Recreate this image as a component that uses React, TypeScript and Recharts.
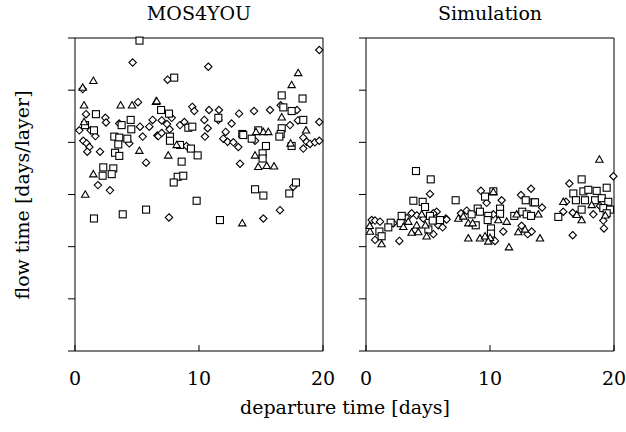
import { ReferenceLine, Scatter, ScatterChart, XAxis, YAxis } from "recharts";

type Pt = [number, number];

// departure time [days], flow time (arbitrary units, 0..6 grid)
const mosDiamonds: Pt[] = [
  [4.65, 5.53], [0.62, 5.02], [5.08, 4.77], [0.89, 4.54], [2.45, 4.47], [2.5, 4.38], [0.35, 4.23],
  [1.26, 4.23], [1.64, 4.12], [0.67, 4.03], [0.94, 3.98], [1.16, 3.91], [0.99, 3.82], [2.02, 3.82],
  [3.57, 4.36], [4.38, 3.98], [5.24, 4.3], [5.99, 4.3], [6.26, 4.43], [5.46, 4.11], [6.64, 4.13],
  [5.73, 3.61], [1.85, 3.18], [2.82, 3.08], [10.75, 5.45], [7.47, 5.2], [7.8, 4.47], [9.46, 4.68],
  [9.62, 4.6], [10.81, 4.62], [11.61, 4.62], [11.56, 4.43], [13.23, 4.55], [6.99, 4.42], [7.42, 4.35],
  [7.63, 4.25], [8.47, 4.33], [8.82, 4.39], [10.43, 4.43], [10.7, 4.27], [10.48, 4.11], [12.63, 4.36],
  [12.15, 4.2], [11.96, 4.07], [12.31, 4.01], [12.77, 4.0], [13.17, 3.91], [6.72, 4.12], [6.99, 4.18],
  [9.0, 3.93], [13.31, 3.59], [7.58, 2.56], [19.7, 5.77], [16.59, 4.71], [17.9, 4.62], [14.44, 4.6],
  [15.73, 4.62], [17.98, 4.42], [19.7, 4.39], [17.34, 4.33], [14.52, 4.03], [18.41, 4.09], [18.68, 4.01],
  [18.95, 3.97], [19.35, 4.0], [19.7, 4.03], [18.41, 3.88], [17.6, 3.15], [16.53, 2.7], [15.19, 2.54],
];

const mosSquares: Pt[] = [
  [5.2, 5.95], [1.69, 4.54], [0.81, 4.33], [1.53, 4.23], [3.76, 4.33], [4.49, 4.43], [4.54, 4.25],
  [3.17, 4.11], [3.57, 4.09], [4.22, 4.07], [3.49, 3.96], [3.23, 3.8], [3.57, 3.74], [2.28, 3.52],
  [2.23, 3.36], [3.09, 3.5], [2.96, 3.39], [1.53, 2.54], [3.85, 2.62], [5.73, 2.71], [8.0, 5.24],
  [6.94, 4.62], [7.58, 4.55], [11.56, 4.47], [9.14, 4.28], [9.46, 4.3], [13.49, 4.16], [7.66, 4.11],
  [7.66, 4.03], [8.47, 3.95], [9.35, 3.88], [9.89, 3.75], [8.6, 3.63], [8.28, 3.34], [8.73, 3.36],
  [7.96, 3.23], [9.81, 2.88], [11.69, 2.51], [16.67, 4.9], [18.35, 4.84], [16.8, 4.67], [17.47, 4.6],
  [18.41, 4.43], [16.67, 4.27], [16.59, 4.16], [13.57, 4.14], [14.25, 4.07], [14.78, 4.23], [16.48, 4.11],
  [17.47, 3.93], [15.4, 3.93], [15.13, 3.79], [15.13, 3.69], [14.52, 3.1], [15.19, 2.98], [17.82, 3.23],
  [17.28, 3.02],
];

const mosTriangles: Pt[] = [
  [0.62, 5.05], [1.48, 5.18], [0.73, 4.71], [3.68, 4.71], [4.6, 4.71], [6.53, 4.78], [0.73, 4.39],
  [5.19, 3.84], [1.48, 3.39], [0.83, 3.0], [6.59, 4.79], [8.2, 3.95], [7.52, 3.75], [13.49, 2.45],
  [18.0, 5.33], [17.47, 5.1], [16.67, 4.48], [18.63, 4.23], [14.6, 4.2], [15.19, 4.2], [15.59, 4.2],
  [17.39, 3.98], [14.52, 3.75], [14.78, 3.53], [15.46, 3.55], [16.05, 3.54],
];

const simDiamonds: Pt[] = [
  [5.16, 3.01], [0.46, 2.51], [0.73, 2.5], [1.13, 2.48], [0.73, 2.13], [2.69, 2.11], [3.68, 2.64],
  [3.95, 2.32], [4.62, 2.54], [5.7, 2.67], [5.43, 2.64], [6.45, 2.54], [5.83, 2.41], [6.18, 2.37],
  [5.43, 2.24], [9.27, 3.07], [9.73, 2.84], [10.94, 2.89], [13.31, 3.11], [12.5, 2.99], [6.5, 2.52],
  [7.66, 2.64], [8.12, 2.69], [10.27, 2.62], [11.07, 2.29], [10.4, 2.11], [12.55, 2.4], [13.04, 2.24],
  [19.95, 3.35], [16.4, 3.21], [14.2, 2.75], [13.36, 2.29], [16.13, 2.86], [15.91, 2.67], [16.67, 2.65],
  [18.33, 2.62], [18.87, 2.78], [19.14, 2.5], [19.19, 2.35], [16.67, 2.22], [2.2, 2.45], [3.3, 2.55],
  [4.1, 2.6],
];

const simSquares: Pt[] = [
  [4.03, 3.45], [5.22, 3.29], [3.82, 2.88], [4.57, 2.86], [4.76, 2.76], [2.88, 2.59], [1.99, 2.46],
  [1.8, 2.37], [1.08, 2.29], [1.26, 2.2], [5.16, 2.59], [5.38, 2.5], [5.97, 2.51], [5.03, 2.33],
  [2.8, 2.45], [7.23, 2.89], [9.6, 2.96], [10.27, 3.06], [12.88, 2.89], [13.5, 2.85], [8.52, 2.62],
  [8.85, 2.41], [9.01, 2.73], [9.19, 2.67], [9.86, 2.59], [9.81, 2.51], [10.81, 2.73], [10.81, 2.63],
  [11.96, 2.59], [10.08, 2.35], [10.08, 2.25], [12.6, 2.67], [12.96, 2.62], [13.31, 2.59], [17.39, 3.29],
  [19.41, 3.13], [13.63, 2.85], [16.72, 3.02], [17.53, 3.06], [17.93, 3.09], [18.6, 3.07], [16.93, 2.89],
  [17.66, 2.89], [18.47, 2.89], [19.01, 2.93], [19.54, 2.86], [15.51, 2.57], [17.39, 2.71], [19.14, 2.74],
  [19.68, 2.71], [19.41, 2.64],
];

const simTriangles: Pt[] = [
  [0.32, 2.29], [1.26, 2.05], [3.41, 2.48], [3.01, 2.38], [4.09, 2.41], [3.68, 2.27], [4.22, 2.28],
  [4.89, 2.2], [4.79, 2.41], [4.49, 2.62], [0.3, 2.4], [10.27, 3.05], [7.45, 2.54], [7.85, 2.58],
  [8.25, 2.45], [8.6, 2.45], [10.67, 2.51], [11.35, 2.48], [10.0, 2.17], [8.25, 2.16], [9.19, 2.16],
  [9.6, 2.2], [9.86, 2.1], [11.53, 1.99], [12.15, 2.62], [12.28, 2.28], [12.82, 2.33], [18.82, 3.67],
  [13.9, 2.62], [14.03, 2.16], [15.91, 2.86], [17.0, 2.61], [17.39, 2.51], [18.2, 2.8], [19.3, 2.6],
];

const xTicks = [0, 10, 20];
const yTicks = [0, 1, 2, 3, 4, 5, 6];

const FONT = "'DejaVu Serif', 'Liberation Serif', serif";
const FONT_SIZE = 19;
const INK = "#000";

const toRows = (pts: Pt[]) => pts.map(([x, y]) => ({ x, y }));

const Diamond = (p: any) => {
  const { cx, cy } = p;
  const r = 3.7;
  return (
    <path
      d={`M${cx},${cy - r}L${cx + r},${cy}L${cx},${cy + r}L${cx - r},${cy}Z`}
      fill="#fff"
      stroke={INK}
      strokeWidth={1.1}
    />
  );
};

const Square = (p: any) => {
  const { cx, cy } = p;
  const s = 3.5;
  return <rect x={cx - s} y={cy - s} width={s * 2} height={s * 2} fill="#fff" stroke={INK} strokeWidth={1.1} />;
};

const Triangle = (p: any) => {
  const { cx, cy } = p;
  const w = 3.7;
  return (
    <path
      d={`M${cx},${cy - 3.7}L${cx + w},${cy + 2.7}L${cx - w},${cy + 2.7}Z`}
      fill="#fff"
      stroke={INK}
      strokeWidth={1.1}
    />
  );
};

function Panel({
  left,
  width,
  rightGap,
  diamonds,
  squares,
  triangles,
}: {
  left: number;
  width: number;
  rightGap: number;
  diamonds: Pt[];
  squares: Pt[];
  triangles: Pt[];
}) {
  return (
    <div style={{ position: "absolute", left, top: 0 }}>
      <ScatterChart width={width} height={432} margin={{ top: 38, right: rightGap, bottom: 0, left: 0 }}>
        <XAxis
          type="number"
          dataKey="x"
          domain={[0, 20]}
          ticks={xTicks}
          height={81}
          stroke={INK}
          tickSize={-6}
          tickMargin={27}
          tick={{ fill: INK, fontSize: FONT_SIZE, fontFamily: FONT }}
        />
        <YAxis
          type="number"
          dataKey="y"
          domain={[0, 6]}
          ticks={yTicks}
          width={75}
          stroke={INK}
          tickSize={7}
          tickFormatter={() => ""}
        />
        <ReferenceLine y={6} stroke={INK} />
        <ReferenceLine x={20} stroke={INK} />
        <Scatter data={toRows(diamonds)} shape={Diamond} isAnimationActive={false} />
        <Scatter data={toRows(squares)} shape={Square} isAnimationActive={false} />
        <Scatter data={toRows(triangles)} shape={Triangle} isAnimationActive={false} />
      </ScatterChart>
    </div>
  );
}

export default function App() {
  const text = {
    position: "absolute" as const,
    fontFamily: FONT,
    fontSize: FONT_SIZE,
    color: INK,
    whiteSpace: "nowrap" as const,
  };
  return (
    <div style={{ position: "absolute", left: 0, top: 0, width: 626, height: 432, background: "#fff" }}>
      <Panel left={0} width={340} rightGap={17} diamonds={mosDiamonds} squares={mosSquares} triangles={mosTriangles} />
      <Panel left={291} width={335} rightGap={12} diamonds={simDiamonds} squares={simSquares} triangles={simTriangles} />
      <div style={{ ...text, left: 75, width: 248, top: 2, textAlign: "center" }}>MOS4YOU</div>
      <div style={{ ...text, left: 366, width: 248, top: 2, textAlign: "center" }}>Simulation</div>
      <div style={{ ...text, left: 145, width: 400, top: 396, textAlign: "center" }}>departure time [days]</div>
      <div
        style={{
          ...text,
          left: 22,
          top: 195,
          transform: "translate(-50%, -50%) rotate(-90deg)",
        }}
      >
        flow time [days/layer]
      </div>
    </div>
  );
}
